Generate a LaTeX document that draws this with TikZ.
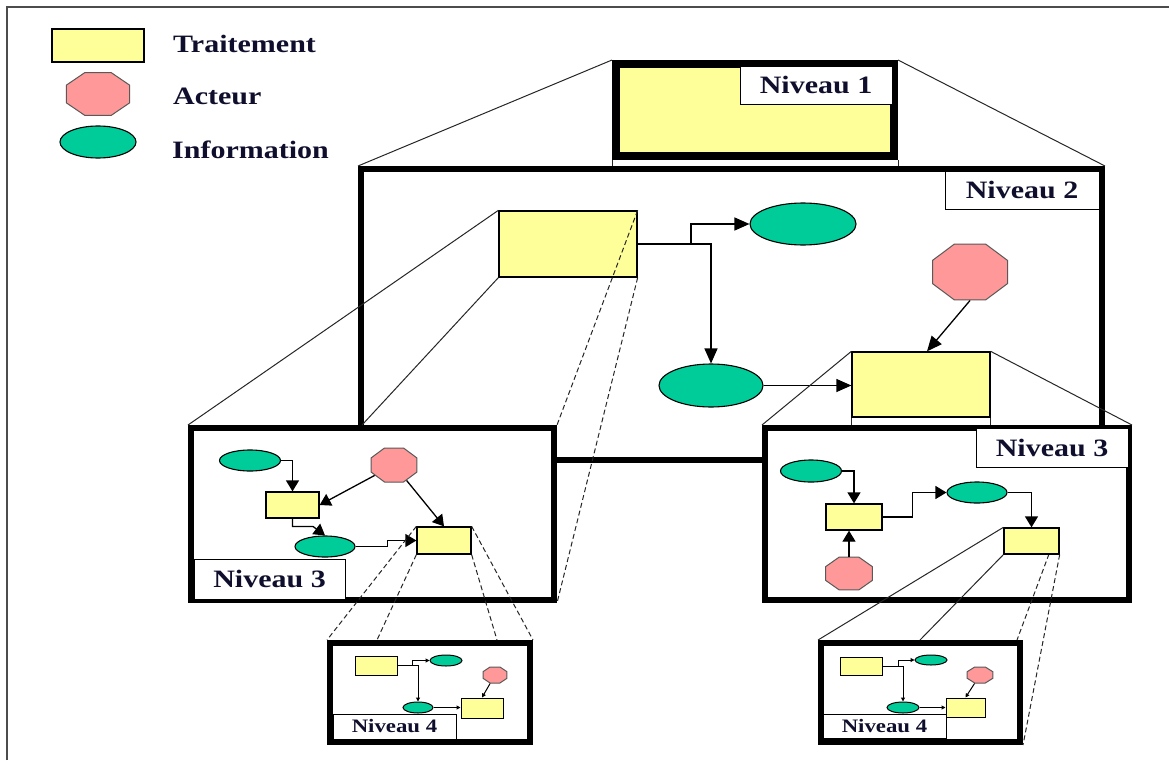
\documentclass[tikz,border=0pt]{standalone}
\usepackage{fontspec}
\setmainfont{Liberation Serif}
\usetikzlibrary{shapes.geometric,arrows.meta,calc}
\definecolor{procfill}{RGB}{255,255,153}
\definecolor{actfill}{RGB}{255,153,153}
\definecolor{infofill}{RGB}{0,204,153}
\definecolor{txt}{RGB}{15,15,45}
\newcommand{\lbl}[1]{\scalebox{1.2}[1]{#1}}
\begin{document}
\begin{tikzpicture}[x=1pt,y=-1pt,
  proc/.style={rectangle,draw=black,line width=1.3pt,fill=procfill,inner sep=0pt},
  act/.style={regular polygon,regular polygon sides=8,draw=black!65,line width=1pt,fill=actfill,inner sep=0pt,transform shape},
  info/.style={ellipse,draw=black,line width=1.1pt,fill=infofill,inner sep=0pt},
  frame/.style={rectangle,draw=black,fill=white,inner sep=0pt},
  tag/.style={rectangle,draw=black,fill=white,line width=1pt,inner sep=0pt,text=txt,font=\fontsize{25}{25}\selectfont\bfseries},
  tagsm/.style={tag,font=\fontsize{19}{19}\selectfont\bfseries},
  legtext/.style={anchor=west,inner sep=0pt,text=txt,font=\fontsize{25}{25}\selectfont\bfseries},
  zl/.style={draw=black!85,line width=1pt},
  zld/.style={zl,dash pattern=on 5pt off 3pt},
  con/.style={draw=black,line width=1.3pt},
  a2/.style={con,-{Triangle[length=15pt,width=13pt]}},
  a3/.style={con,-{Triangle[length=11pt,width=13pt]}},
  a4/.style={draw=black,line width=1pt,-{Triangle[length=4pt,width=4pt]}},
]
\useasboundingbox (0,0) rectangle (1169,760);
\draw[black!70,line width=1.5pt] (7,760) -- (7,7) -- (1169,7);

% legend
\node[proc,minimum width=92pt,minimum height=33pt] (Lp) at (98,45.5) {};
\node[act,minimum size=46.5pt,xscale=1.47] (La) at (98,94) {};
\node[info,minimum width=76pt,minimum height=32pt] (Li) at (98,142) {};
\node[legtext] (Tp) at (173,44) {\lbl{Traitement}};
\node[legtext] (Ta) at (173,96) {\lbl{Acteur}};
\node[legtext] (Ti) at (172,150) {\lbl{Information}};

% frames
\node[frame,fill=procfill,line width=8pt,minimum width=278pt,minimum height=92pt] (N1) at (755,110) {};
\node[tag,minimum width=152pt,minimum height=38pt] (T1) at (816,85) {\lbl{Niveau 1}};
\node[frame,line width=6pt,minimum width=741pt,minimum height=291pt] (N2) at (731.5,314.5) {};
\node[tag,minimum width=154pt,minimum height=38pt] (T2) at (1022,190) {\lbl{Niveau 2}};
\node[frame,line width=6pt,minimum width=363pt,minimum height=172pt] (N3L) at (372.5,514) {};
\node[tag,minimum width=151pt,minimum height=40pt] (T3L) at (269.5,579) {\lbl{Niveau 3}};
\node[frame,line width=6pt,minimum width=364pt,minimum height=172pt] (N3R) at (947,514) {};
\node[tag,minimum width=152pt,minimum height=39pt] (T3R) at (1052,448) {\lbl{Niveau 3}};
\node[frame,line width=6pt,minimum width=200pt,minimum height=99pt] (N4L) at (430,692.5) {};
\node[tagsm,minimum width=123pt,minimum height=25pt] (T4L) at (394.5,726.5) {\lbl{Niveau 4}};
\node[frame,line width=6pt,minimum width=199pt,minimum height=99pt] (N4R) at (920.5,692.5) {};
\node[tagsm,minimum width=123pt,minimum height=24pt] (T4R) at (884.5,726.5) {\lbl{Niveau 4}};

% level 1 -> level 2
\draw[zl] (N1.north west) -- (N2.north west);
\draw[zl] (N1.north east) -- (N2.north east);
\draw[zl] (N1.south west) -- (N1.south west |- N2.north);
\draw[zl] (N1.south east) -- (N1.south east |- N2.north);

% level 2 contents
\node[proc,minimum width=138pt,minimum height=66pt] (A) at (568,244) {};
\node[info,minimum width=106pt,minimum height=42pt] (E1) at (803,224) {};
\node[info,minimum width=104pt,minimum height=43pt] (E2) at (711,385.5) {};
\node[proc,minimum width=138pt,minimum height=65pt] (B) at (921,384.5) {};
\node[act,minimum size=60.6pt,xscale=1.34] (O) at (970,272) {};
\coordinate (j1) at (691,244);
\draw[a2] (A.east) -| (E2.north);
\draw[a2] (j1) |- (E1.west);
\draw[a2] (E2.east) -- (E2.east -| B.west);
\draw[a2] (O.south) -- ([xshift=6pt]B.north);

% level 2 -> level 3
\draw[zl] (A.north west) -- (N3L.north west);
\draw[zl] (A.south west) -- ($(N3L.north west)+(174,0)$);
\draw[zld] (A.north east) -- (N3L.north east);
\draw[zld] (A.south east) -- (N3L.south east);
\draw[zl] (B.north west) -- (N3R.north west);
\draw[zl] (B.north east) -- (N3R.north east);
\draw[zl] (B.south west) -- (B.south west |- N3R.north);
\draw[zl] (B.south east) -- (B.south east |- N3R.north);

% level 3 left contents
\node[info,minimum width=61pt,minimum height=21pt] (e1) at (250,460.5) {};
\node[act,minimum size=36.8pt,xscale=1.35] (o1) at (394,465) {};
\node[proc,minimum width=53pt,minimum height=26pt] (r1) at (292.5,505) {};
\node[info,minimum width=60pt,minimum height=21pt] (e2) at (325,546.5) {};
\node[proc,minimum width=54pt,minimum height=27pt] (r2) at (444,540.5) {};
\draw[a3] (e1.east) -| (r1.north);
\draw[a3] (o1) -- (r1.east);
\draw[a3] (o1) -- (r2.north);
\draw[a3] (r1.south) |- ($(e2.north)+(-12,-9)$) -- (e2.north);
\draw[a3] (e2.east) -- ++(32,0) |- (r2.west);

% level 3 right contents
\node[info,minimum width=61pt,minimum height=22pt] (f1) at (811,471) {};
\node[proc,minimum width=56pt,minimum height=26pt] (s1) at (854,517) {};
\node[act,minimum size=35.7pt,xscale=1.42] (p1) at (849,573.5) {};
\node[info,minimum width=60pt,minimum height=21pt] (f2) at (977,492.5) {};
\coordinate (s2se) at (1059,554);
\draw[zld] ($(s2se)+(-10,0)$) -- ($(N4R.north west)+(199,0)$);
\node[proc,minimum width=55pt,minimum height=26pt] (s2) at (1031.5,541) {};
\draw[a3] (f1.east) -| (s1.north);
\draw[a3] (p1.north) -- (p1.north |- s1.south);
\draw[a3] (s1.east) -- ++(30,0) |- (f2.west);
\draw[a3] (f2.east) -| (s2.north);

% level 3 -> level 4
\draw[zld] (r2.north west) -- (N4L.north west);
\draw[zld] (r2.south west) -- ($(N4L.north west)+(50,0)$);
\draw[zld] (r2.south east) -- ($(N4L.north west)+(170,0)$);
\draw[zld] (r2.north east) -- (N4L.north east);
\draw[zl] (s2.north west) -- (N4R.north west);
\draw[zl] (s2.south west) -- ($(N4R.north west)+(102,0)$);
\draw[zld] (s2.south east) -- (N4R.south east);

% level 4 left contents
\node[proc,line width=1pt,minimum width=42pt,minimum height=19pt] (g1) at (376,665.5) {};
\node[info,line width=1pt,minimum width=32pt,minimum height=11pt] (h1) at (446,660.5) {};
\node[act,minimum size=17.3pt,xscale=1.5] (q1) at (495,675) {};
\node[info,line width=1pt,minimum width=30pt,minimum height=11pt] (h2) at (418,707.5) {};
\node[proc,line width=1pt,minimum width=42pt,minimum height=20pt] (g2) at (482,708) {};
\coordinate (j2) at (412,665.5);
\draw[a4] (g1.east) -| (h2.north);
\draw[a4] (j2) |- (h1.west);
\draw[a4] (q1) -- (g2.north);
\draw[a4] (h2.east) -- (h2.east -| g2.west);

% level 4 right contents
\node[proc,line width=1pt,minimum width=42pt,minimum height=18pt] (k1) at (861,666) {};
\node[info,line width=1pt,minimum width=32pt,minimum height=10pt] (m1) at (931,660) {};
\node[act,minimum size=17.3pt,xscale=1.6] (u1) at (980,675) {};
\node[info,line width=1pt,minimum width=32pt,minimum height=11pt] (m2) at (903,707.5) {};
\node[proc,line width=1pt,minimum width=39pt,minimum height=19pt] (k2) at (965.5,707.5) {};
\coordinate (j3) at (898,666);
\draw[a4] (k1.east) -| (m2.north);
\draw[a4] (j3) |- (m1.west);
\draw[a4] (u1) -- (k2.north);
\draw[a4] (m2.east) -- (m2.east -| k2.west);
\end{tikzpicture}
\end{document}
